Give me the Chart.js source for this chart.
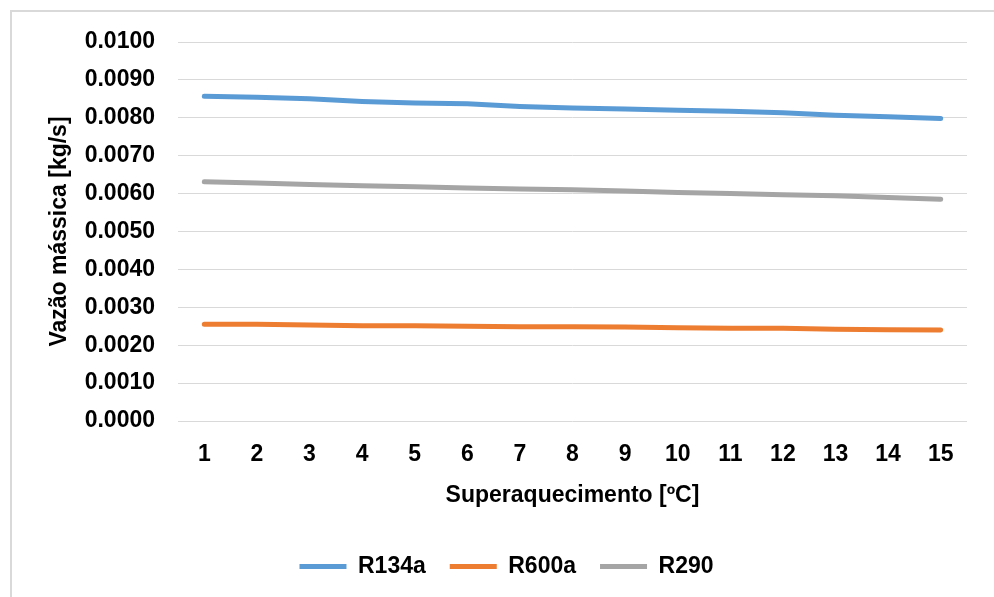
<!DOCTYPE html>
<html lang="pt-BR">

<head>
    <meta charset="utf-8">
    <title>Vazão mássica x Superaquecimento</title>
    <script src="https://cdn.jsdelivr.net/npm/chart.js"></script>
    <style>
        body { margin: 0; background: #fff; }
        #moldura {
            position: absolute; left: 10px; top: 10px; right: 0; bottom: 0;
            border-left: 2px solid #d9d9d9; border-top: 2px solid #d9d9d9;
        }
        #grafico-wrap { position: absolute; left: 0; top: 0; width: 994px; height: 597px; }
    </style>
</head>

<body>
    <div id="moldura"></div>
    <div id="grafico-wrap">
        <canvas id="vazaoChart"></canvas>
    </div>

    <script>
        // Superaquecimento [ºC]
        const superaquecimento = ['1', '2', '3', '4', '5', '6', '7', '8', '9', '10', '11', '12', '13', '14', '15'];

        // Vazão mássica [kg/s] por fluido
        const r134a = [0.00857, 0.00854, 0.00850, 0.00843, 0.00839, 0.00837, 0.00830, 0.00826,
            0.00823, 0.00820, 0.00817, 0.00813, 0.00807, 0.00803, 0.00798];
        const r600a = [0.00255, 0.00255, 0.00253, 0.00251, 0.00251, 0.00250, 0.00249, 0.00249,
            0.00248, 0.00246, 0.00245, 0.00245, 0.00242, 0.00241, 0.00240];
        const r290 = [0.00631, 0.00628, 0.00624, 0.00621, 0.00618, 0.00615, 0.00612, 0.00610,
            0.00607, 0.00603, 0.00600, 0.00597, 0.00594, 0.00590, 0.00585];

        const fonte = { family: "'Liberation Sans', Arial, sans-serif", size: 23, weight: 'bold', lineHeight: 1 };

        function serie(label, data, cor) {
            return {
                label: label,
                data: data,
                borderColor: cor,
                backgroundColor: cor,
                borderWidth: 5,
                borderCapStyle: 'round',
                borderJoinStyle: 'round',
                pointRadius: 0,
                tension: 0
            };
        }

        new Chart(document.getElementById('vazaoChart'), {
            type: 'line',
            data: {
                labels: superaquecimento,
                datasets: [
                    serie('R134a', r134a, '#5b9bd5'),
                    serie('R600a', r600a, '#ed7d31'),
                    serie('R290', r290, '#a5a5a5')
                ]
            },
            options: {
                responsive: true,
                maintainAspectRatio: false,
                animation: false,
                layout: { padding: { left: 46, right: 27, top: 42, bottom: 9 } },
                plugins: {
                    tooltip: { enabled: false },
                    legend: {
                        position: 'bottom',
                        labels: {
                            color: '#000',
                            font: fonte,
                            usePointStyle: true,
                            pointStyle: 'line',
                            pointStyleWidth: 47,
                            padding: 24
                        }
                    }
                },
                scales: {
                    x: {
                        offset: true,
                        grid: { display: false, drawTicks: false },
                        border: { display: false },
                        ticks: { color: '#000', font: fonte, padding: 22, maxRotation: 0, autoSkip: false },
                        title: {
                            display: true,
                            text: 'Superaquecimento [ºC]',
                            color: '#000',
                            font: fonte,
                            padding: { top: 4, bottom: 24 }
                        },
                        afterFit: (scale) => { scale.height = 110; }
                    },
                    y: {
                        min: 0,
                        max: 0.01,
                        grid: { color: '#d9d9d9', lineWidth: 1, drawTicks: false },
                        border: { display: false },
                        ticks: {
                            stepSize: 0.001,
                            color: '#000',
                            font: fonte,
                            padding: 23,
                            callback: (v) => v.toFixed(4)
                        },
                        title: {
                            display: true,
                            text: 'Vazão mássica [kg/s]',
                            color: '#000',
                            font: fonte,
                            padding: { top: 2.5, bottom: 4 }
                        },
                        afterFit: (scale) => { scale.width = 132; }
                    }
                }
            }
        });
    </script>
</body>

</html>
